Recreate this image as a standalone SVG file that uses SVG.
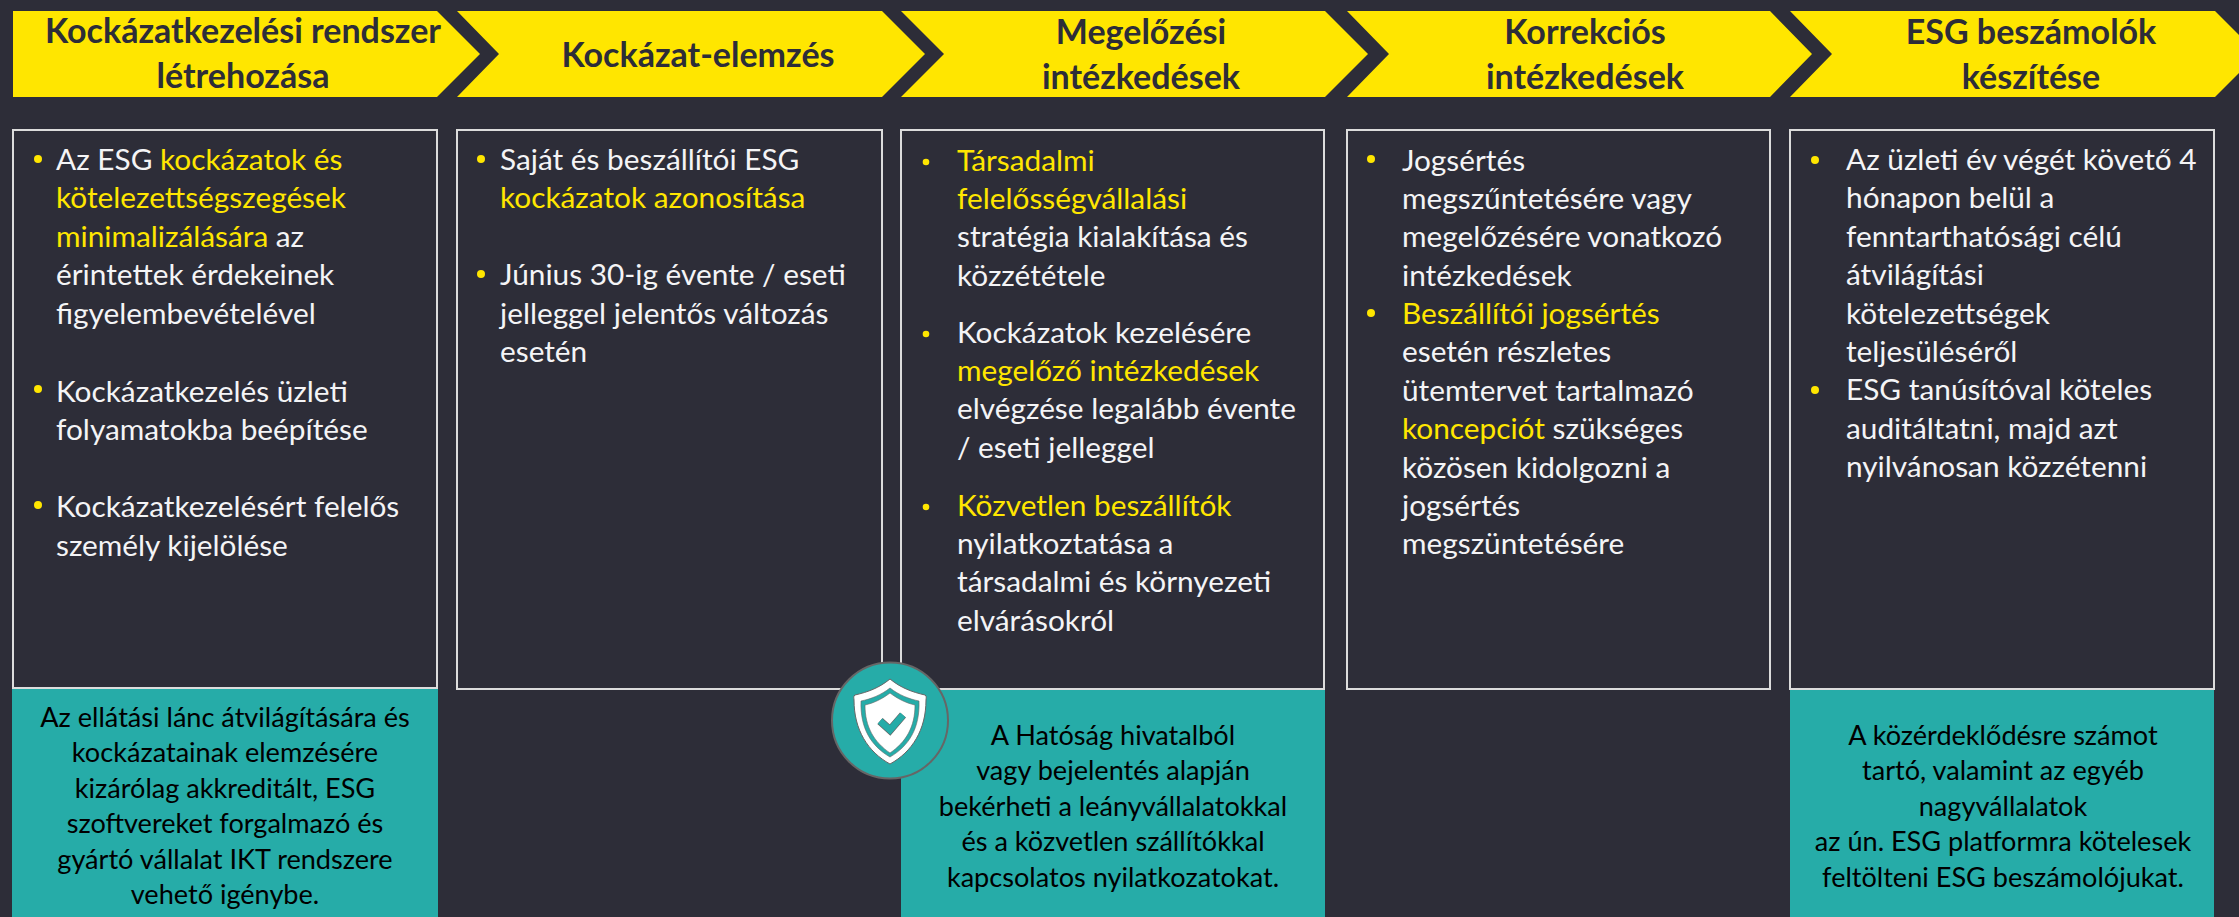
<svg xmlns="http://www.w3.org/2000/svg" width="2239" height="917" viewBox="0 0 2239 917">
<style>
text{font-family:"Lato","Carlito","Liberation Sans",sans-serif}
.h{font-size:34px;font-weight:700;fill:#2d2d38;text-anchor:middle}
.hb{fill:#ffe600}
.b{font-size:29.8px;fill:#f4f4f6}
.y{fill:#ffe600}
.t{font-size:27.1px;fill:#000;text-anchor:middle}
.box{fill:none;stroke:#dcdcdc;stroke-width:2}
.teal{fill:#26aca8}
</style>
<rect width="2239" height="917" fill="#2d2d38"/>
<g id="step1"><polygon class="hb" points="13,11 437,11 480,54 437,97 13,97"/><text class="h" x="243" y="43">Kockázatkezelési rendszer</text><text class="h" x="243" y="88">létrehozása</text></g>
<g id="step2"><polygon class="hb" points="457,11 882,11 925,54 882,97 457,97 499,54"/><text class="h" x="698" y="67">Kockázat-elemzés</text></g>
<g id="step3"><polygon class="hb" points="901,11 1325,11 1368,54 1325,97 901,97 944,54"/><text class="h" x="1141" y="44">Megelőzési</text><text class="h" x="1141" y="89">intézkedések</text></g>
<g id="step4"><polygon class="hb" points="1347,11 1770,11 1812,54 1770,97 1347,97 1389,54"/><text class="h" x="1585" y="44">Korrekciós</text><text class="h" x="1585" y="89">intézkedések</text></g>
<g id="step5"><polygon class="hb" points="1790,11 2215,11 2258,54 2215,97 1790,97 1832,54"/><text class="h" x="2031" y="44">ESG beszámolók</text><text class="h" x="2031" y="89">készítése</text></g>

<g id="col1"><rect class="box" x="13" y="130" width="424" height="558"/>
<g class="y"><circle cx="38" cy="159" r="4"/><circle cx="38" cy="389" r="4"/><circle cx="38" cy="505" r="4"/></g>
<g class="b"><text x="56" y="170">Az ESG <tspan class="y">kockázatok és</tspan></text><text class="y" x="56" y="208.4">kötelezettségszegések</text><text x="56" y="246.8"><tspan class="y">minimalizálására</tspan> az</text><text x="56" y="285.2">érintettek érdekeinek</text><text x="56" y="323.6">figyelembevételével</text><text x="56" y="401.7">Kockázatkezelés üzleti</text><text x="56" y="440">folyamatokba beépítése</text><text x="56" y="517">Kockázatkezelésért felelős</text><text x="56" y="555.5">személy kijelölése</text></g></g>

<g id="col2"><rect class="box" x="457" y="130" width="425" height="559"/>
<g class="y"><circle cx="481" cy="159" r="4"/><circle cx="481" cy="274" r="4"/></g>
<g class="b"><text x="500" y="170">Saját és beszállítói ESG</text><text class="y" x="500" y="208.4">kockázatok azonosítása</text><text x="500" y="285.2">Június 30-ig évente / eseti</text><text x="500" y="323.6">jelleggel jelentős változás</text><text x="500" y="362">esetén</text></g></g>

<g id="col3"><rect class="box" x="901" y="130" width="423" height="559"/>
<g class="y"><circle cx="926" cy="162" r="3.3"/><circle cx="926" cy="334" r="3.3"/><circle cx="926" cy="507" r="3.3"/></g>
<g class="b"><text class="y" x="957" y="170.5">Társadalmi</text><text class="y" x="957" y="208.9">felelősségvállalási</text><text x="957" y="247.3">stratégia kialakítása és</text><text x="957" y="285.7">közzététele</text><text x="957" y="342.7">Kockázatok kezelésére</text><text class="y" x="957" y="381">megelőző intézkedések</text><text x="957" y="419.3">elvégzése legalább évente</text><text x="957" y="457.7">/ eseti jelleggel</text><text class="y" x="957" y="515.7">Közvetlen beszállítók</text><text x="957" y="554">nyilatkoztatása a</text><text x="957" y="592.4">társadalmi és környezeti</text><text x="957" y="630.8">elvárásokról</text></g></g>

<g id="col4"><rect class="box" x="1347" y="130" width="423" height="559"/>
<g class="y"><circle cx="1371" cy="159" r="4"/><circle cx="1371" cy="313" r="4"/></g>
<g class="b"><text x="1402" y="170.5">Jogsértés</text><text x="1402" y="208.9">megszűntetésére vagy</text><text x="1402" y="247.3">megelőzésére vonatkozó</text><text x="1402" y="285.7">intézkedések</text><text class="y" x="1402" y="324">Beszállítói jogsértés</text><text x="1402" y="362.4">esetén részletes</text><text x="1402" y="400.8">ütemtervet tartalmazó</text><text x="1402" y="439.2"><tspan class="y">koncepciót</tspan> szükséges</text><text x="1402" y="477.6">közösen kidolgozni a</text><text x="1402" y="516">jogsértés</text><text x="1402" y="554.4">megszüntetésére</text></g></g>

<g id="col5"><rect class="box" x="1790" y="130" width="424" height="559"/>
<g class="y"><circle cx="1815" cy="160" r="4"/><circle cx="1815" cy="390" r="4"/></g>
<g class="b"><text x="1846" y="170">Az üzleti év végét követő 4</text><text x="1846" y="208.4">hónapon belül a</text><text x="1846" y="246.8">fenntarthatósági célú</text><text x="1846" y="285.2">átvilágítási</text><text x="1846" y="323.6">kötelezettségek</text><text x="1846" y="362">teljesüléséről</text><text x="1846" y="400.4">ESG tanúsítóval köteles</text><text x="1846" y="438.8">auditáltatni, majd azt</text><text x="1846" y="477.2">nyilvánosan közzétenni</text></g></g>

<g id="note1"><rect class="teal" x="12" y="689" width="426" height="228"/><g class="t"><text x="225" y="727">Az ellátási lánc átvilágítására és</text><text x="225" y="762.4">kockázatainak elemzésére</text><text x="225" y="797.8">kizárólag akkreditált, ESG</text><text x="225" y="833.2">szoftvereket forgalmazó és</text><text x="225" y="868.6">gyártó vállalat IKT rendszere</text><text x="225" y="904">vehető igénybe.</text></g></g>
<g id="note3"><rect class="teal" x="901" y="690" width="424" height="227"/><g class="t"><text x="1113" y="745">A Hatóság hivatalból</text><text x="1113" y="780.4">vagy bejelentés alapján</text><text x="1113" y="815.8">bekérheti a leányvállalatokkal</text><text x="1113" y="851.2">és a közvetlen szállítókkal</text><text x="1113" y="886.6">kapcsolatos nyilatkozatokat.</text></g></g>
<g id="note5"><rect class="teal" x="1790" y="690" width="424" height="227"/><g class="t"><text x="2003" y="745">A közérdeklődésre számot</text><text x="2003" y="780.4">tartó, valamint az egyéb</text><text x="2003" y="815.8">nagyvállalatok</text><text x="2003" y="851.2">az ún. ESG platformra kötelesek</text><text x="2003" y="886.6">feltölteni ESG beszámolójukat.</text></g></g>

<g id="shield-badge"><circle cx="890" cy="720.5" r="58" fill="#26aca8" stroke="#666" stroke-width="2"/>
<path d="M890 679C879 688 868 692 855 695C853 696 854 698 854 700C854 730 868 752 890 764C912 752 926 730 926 700C926 698 927 696 925 695C912 692 901 688 890 679Z" fill="#fff" stroke="#666" stroke-width="1"/>
<path d="M890 688C881 695 871 699 861 701C860 728 871 746 890 757C909 746 920 728 919 701C909 699 899 695 890 688Z" fill="#26aca8" stroke="#666" stroke-width=".6"/>
<path d="M890 693C882 699 874 703 865 705C865 727 874 742 890 753C906 742 915 727 915 705C906 703 898 699 890 693Z" fill="#fff" stroke="#666" stroke-width=".6"/>
<path d="M880 721L890 730L903 715" fill="none" stroke="#666" stroke-width="8"/>
<path d="M880 721L890 730L903 715" fill="none" stroke="#26aca8" stroke-width="6.5"/></g>
</svg>
